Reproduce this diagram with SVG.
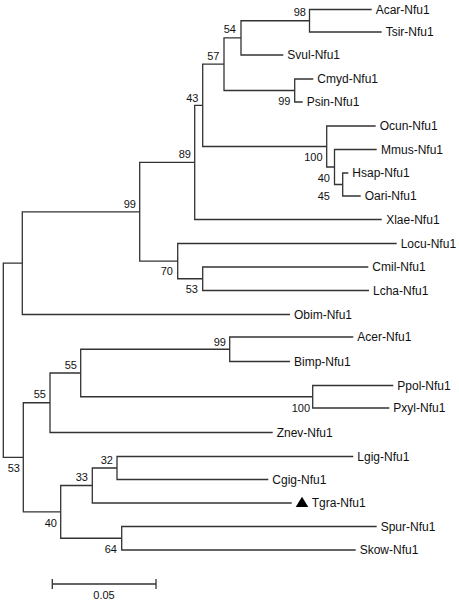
<svg xmlns="http://www.w3.org/2000/svg" width="459" height="603" viewBox="0 0 459 603">
<style>
.br{fill:none;stroke:#333;stroke-width:1.3}
.lf{font-family:"Liberation Sans",Arial,sans-serif;font-size:12px;fill:#111}
.bs{font-family:"Liberation Sans",Arial,sans-serif;font-size:11px;fill:#111;text-anchor:end}
</style>
<rect width="459" height="603" fill="#fff"/>
<g id="connectors">
<path class="br" d="M371.7,9.5 H309.5 V32 H381.7"/>
<path class="br" d="M309.5,20.75 H241 V55 H283.3"/>
<path class="br" d="M313.3,79 H294.7 V102 H302.7"/>
<path class="br" d="M241,37.9 H224 V90.5 H294.7"/>
<path class="br" d="M348.3,173 H342.7 V196 H360.7"/>
<path class="br" d="M376.7,149.5 H334.5 V184.5 H342.7"/>
<path class="br" d="M375.7,126 H326.7 V167 H334.5"/>
<path class="br" d="M224,64.2 H202.7 V146.5 H326.7"/>
<path class="br" d="M202.7,105.3 H194.7 V219.5 H381.7"/>
<path class="br" d="M368.3,267 H202.7 V290.5 H369"/>
<path class="br" d="M396.7,243.5 H177.7 V278.75 H202.7"/>
<path class="br" d="M194.7,162.4 H139.7 V261.1 H177.7"/>
<path class="br" d="M139.7,211.8 H22.3 V314.5 H290"/>
<path class="br" d="M353.3,337 H229.7 V361.5 H290"/>
<path class="br" d="M393.3,385.5 H312.7 V408 H389.3"/>
<path class="br" d="M229.7,349.25 H80.7 V396.75 H312.7"/>
<path class="br" d="M80.7,373 H50 V432.5 H272.7"/>
<path class="br" d="M353.3,456.5 H117 V479.5 H268.3"/>
<path class="br" d="M117,468 H92.3 V503 H291.7"/>
<path class="br" d="M376.7,526.5 H121.7 V550 H355.7"/>
<path class="br" d="M92.3,485.5 H60.7 V538.25 H121.7"/>
<path class="br" d="M50,402.75 H23.3 V511.9 H60.7"/>
<path class="br" d="M22.3,263.1 H3.3 V457.3 H23.3"/>
</g>
<g id="leaf-Acar"><text class="lf" x="375.7" y="13.8">Acar-Nfu1</text></g>
<g id="leaf-Tsir"><text class="lf" x="385.7" y="36.3">Tsir-Nfu1</text></g>
<g id="leaf-Svul"><text class="lf" x="287.3" y="59.3">Svul-Nfu1</text></g>
<g id="leaf-Cmyd"><text class="lf" x="317.3" y="83.3">Cmyd-Nfu1</text></g>
<g id="leaf-Psin"><text class="lf" x="306.7" y="106.3">Psin-Nfu1</text></g>
<g id="leaf-Ocun"><text class="lf" x="379.7" y="130.3">Ocun-Nfu1</text></g>
<g id="leaf-Mmus"><text class="lf" x="381" y="153.8">Mmus-Nfu1</text></g>
<g id="leaf-Hsap"><text class="lf" x="352.3" y="177.3">Hsap-Nfu1</text></g>
<g id="leaf-Oari"><text class="lf" x="364.7" y="200.3">Oari-Nfu1</text></g>
<g id="leaf-Xlae"><text class="lf" x="386.2" y="223.8">Xlae-Nfu1</text></g>
<g id="leaf-Locu"><text class="lf" x="400.7" y="247.8">Locu-Nfu1</text></g>
<g id="leaf-Cmil"><text class="lf" x="372.3" y="271.3">Cmil-Nfu1</text></g>
<g id="leaf-Lcha"><text class="lf" x="373" y="294.8">Lcha-Nfu1</text></g>
<g id="leaf-Obim"><text class="lf" x="294" y="318.8">Obim-Nfu1</text></g>
<g id="leaf-Acer"><text class="lf" x="357.3" y="341.3">Acer-Nfu1</text></g>
<g id="leaf-Bimp"><text class="lf" x="294" y="365.8">Bimp-Nfu1</text></g>
<g id="leaf-Ppol"><text class="lf" x="397.3" y="389.8">Ppol-Nfu1</text></g>
<g id="leaf-Pxyl"><text class="lf" x="393.3" y="412.3">Pxyl-Nfu1</text></g>
<g id="leaf-Znev"><text class="lf" x="276.7" y="436.8">Znev-Nfu1</text></g>
<g id="leaf-Lgig"><text class="lf" x="357.3" y="460.8">Lgig-Nfu1</text></g>
<g id="leaf-Cgig"><text class="lf" x="272.3" y="483.8">Cgig-Nfu1</text></g>
<g id="leaf-Tgra"><polygon points="295.7,507 302,496.7 308.3,507" fill="#000"/><text class="lf" x="311.7" y="507.3">Tgra-Nfu1</text></g>
<g id="leaf-Spur"><text class="lf" x="380.7" y="530.8">Spur-Nfu1</text></g>
<g id="leaf-Skow"><text class="lf" x="359.7" y="554.3">Skow-Nfu1</text></g>
<g id="bootstrap">
<text class="bs" x="306" y="16">98</text>
<text class="bs" x="236" y="33">54</text>
<text class="bs" x="219.5" y="60">57</text>
<text class="bs" x="290.5" y="104.5">99</text>
<text class="bs" x="198.5" y="101.5">43</text>
<text class="bs" x="322.5" y="161">100</text>
<text class="bs" x="330" y="182">40</text>
<text class="bs" x="330" y="200">45</text>
<text class="bs" x="191" y="158">89</text>
<text class="bs" x="136" y="208">99</text>
<text class="bs" x="173" y="275">70</text>
<text class="bs" x="198" y="293">53</text>
<text class="bs" x="226" y="346">99</text>
<text class="bs" x="77" y="369">55</text>
<text class="bs" x="310" y="412">100</text>
<text class="bs" x="46" y="398">55</text>
<text class="bs" x="113" y="464">32</text>
<text class="bs" x="88" y="481">33</text>
<text class="bs" x="57" y="527">40</text>
<text class="bs" x="117" y="553">64</text>
<text class="bs" x="20" y="472">53</text>
</g>
<g id="scale-bar">
<path class="br" d="M52.3,584 H156 M52.3,579 V589 M156,579 V589"/>
<text class="lf" style="font-size:11px" x="104" y="599" text-anchor="middle">0.05</text>
</g>
</svg>
